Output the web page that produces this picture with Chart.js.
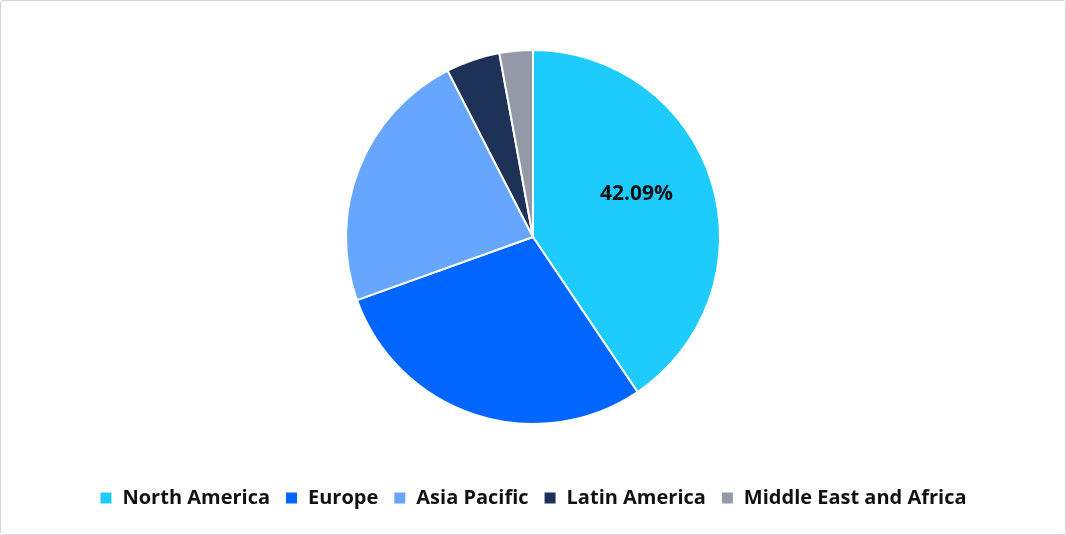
<!DOCTYPE html>
<html>
<head>
<meta charset="utf-8">
<script src="https://cdn.jsdelivr.net/npm/chart.js@4"></script>
<style>
  html, body { margin: 0; padding: 0; background: #fff; }
  #wrap { position: relative; width: 1064px; height: 533px; border: 1px solid #d4d4d4; border-radius: 3px; }
  canvas { display: block; }
</style>
</head>
<body>
<div id="wrap"><canvas id="chart"></canvas></div>
<script>
const regions = ['North America', 'Europe', 'Asia Pacific', 'Latin America', 'Middle East and Africa']
const shares = [42.09, 30.06, 23.8, 4.84, 2.99]
const colors = ['#1ecbfd', '#0066ff', '#66a6ff', '#1e3157', '#9399a6']
const labelledIndex = 0

// writes the value on the big slice
const sliceLabel = {
  id: 'sliceLabel',
  afterDatasetsDraw(chart) {
    const arc = chart.getDatasetMeta(0).data[labelledIndex]
    const mid = (arc.startAngle + arc.endAngle) / 2 - 0.1
    const r = arc.outerRadius * 0.6
    const ctx = chart.ctx
    ctx.save()
    ctx.font = 'bold 21px "Open Sans"'
    ctx.fillStyle = '#111'
    ctx.textAlign = 'center'
    ctx.textBaseline = 'middle'
    ctx.fillText(shares[labelledIndex].toFixed(2) + '%', arc.x + Math.cos(mid) * r, arc.y + Math.sin(mid) * r)
    ctx.restore()
  }
}

new Chart(document.getElementById('chart'), {
  type: 'pie',
  data: {
    labels: regions,
    datasets: [{
      data: shares,
      backgroundColor: colors,
      borderColor: '#fff',
      borderWidth: 2,
      radius: 187
    }]
  },
  options: {
    responsive: true,
    maintainAspectRatio: false,
    animation: false,
    layout: { padding: { top: 0, bottom: 16 } },
    plugins: {
      tooltip: { enabled: false },
      legend: {
        position: 'bottom',
        labels: {
          boxWidth: 13,
          boxHeight: 13,
          padding: 15,
          color: '#111',
          font: { family: 'Open Sans', size: 20, weight: 'bold' }
        }
      }
    }
  },
  plugins: [sliceLabel]
})
</script>
</body>
</html>
